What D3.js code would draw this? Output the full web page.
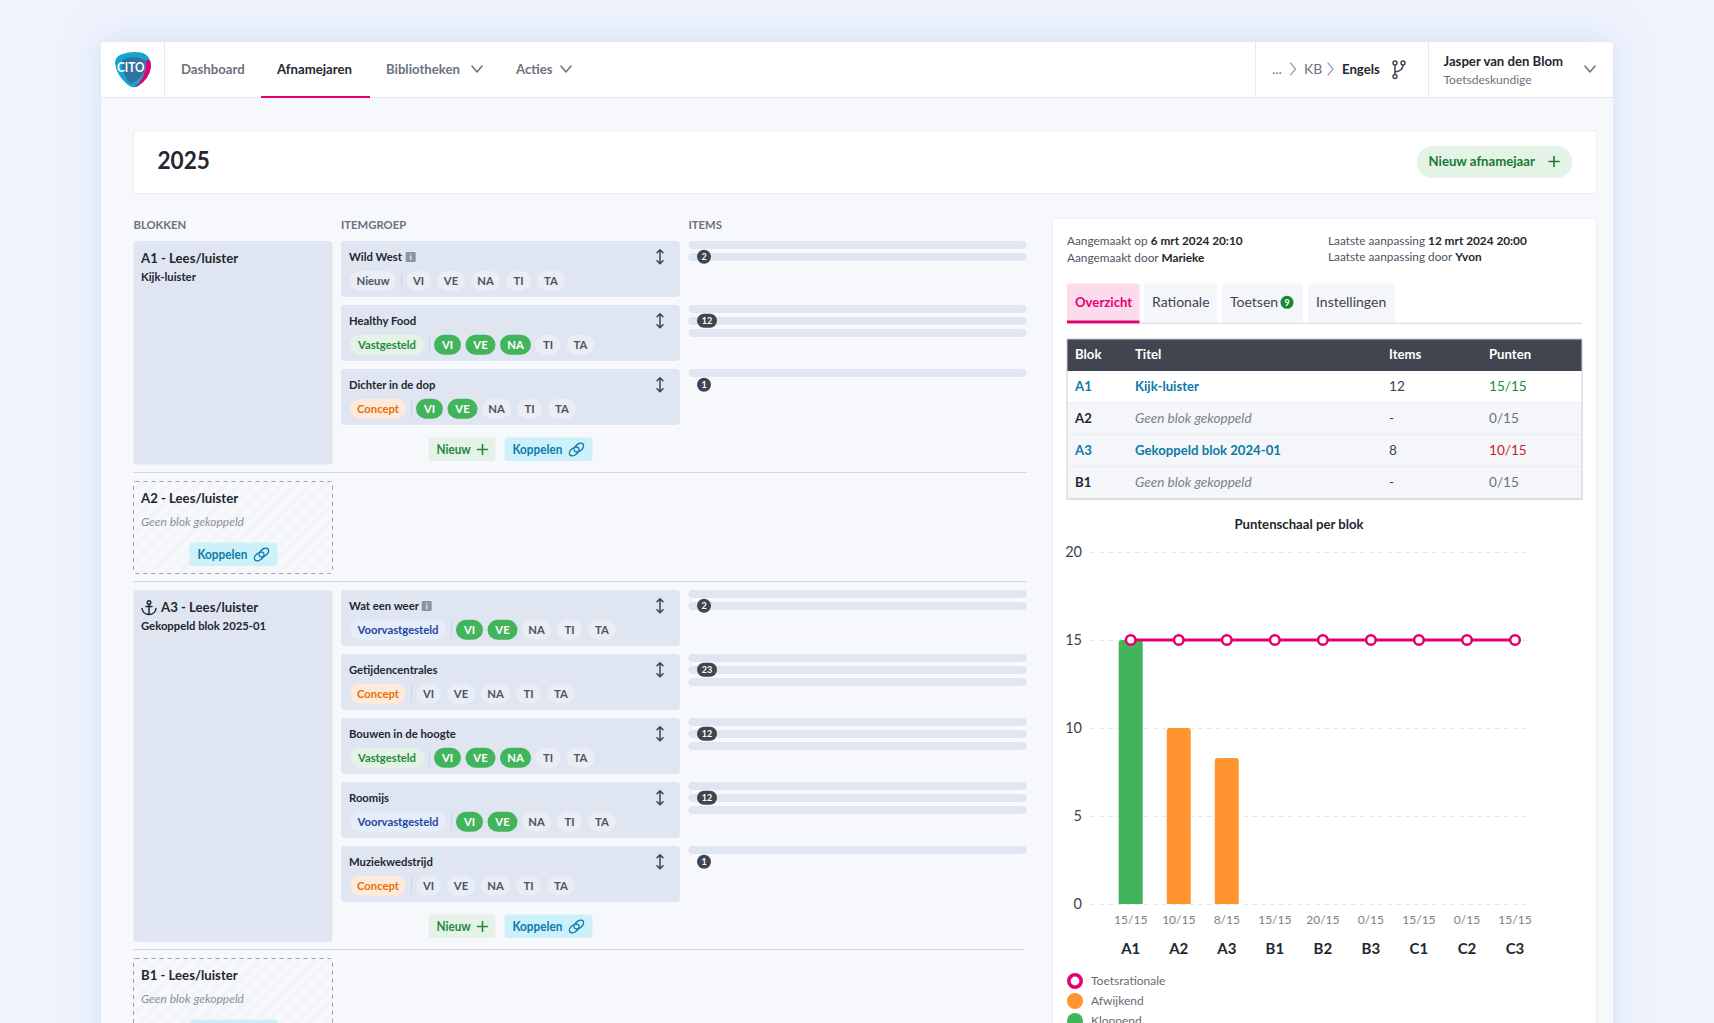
<!DOCTYPE html>
<html>
<head>
<meta charset="utf-8">
<title>Afnamejaren 2025</title>
<script src="https://cdn.jsdelivr.net/npm/d3@7"></script>
<style>
  html, body { margin: 0; padding: 0; background: #eef3fd; overflow: hidden; }
  svg { display: block; font-family: Lato, "Noto Sans", sans-serif; }
</style>
</head>
<body>
<svg id="page" width="1714" height="1023"></svg>
<script>
const colors = {
  pink: "#e5006f",
  green: "#42b55c",
  orange: "#ff9430",
  dark: "#40454f",
  text: "#23272e",
  grey: "#6b7280",
  blueLink: "#0a7ba8",
  panel: "#e0e6f1",
  line: "#cfd5e3",
};

const statusStyle = {
  Nieuw: { bg: "#eaedf4", fg: "#4b5563" },
  Vastgesteld: { bg: "#e3f3e6", fg: "#1f8a3e" },
  Concept: { bg: "#fdeadb", fg: "#e8710a" },
  Voorvastgesteld: { bg: "#e6ecf9", fg: "#2447a3" },
};

const chipWidth = { VI: 25, VE: 28, NA: 29, TI: 25, TA: 28 };
const statusWidth = { Nieuw: 46, Vastgesteld: 74, Concept: 56, Voorvastgesteld: 96 };

// y = top of the block, rows hang below it at a 64px pitch
const blocks = [
  {
    title: "A1 - Lees/luister", sub: "Kijk-luister", y: 241, bottom: 464.5, btnY: 437.5,
    rows: [
      { name: "Wild West", info: true, status: "Nieuw", on: 0, items: 2, bars: 2 },
      { name: "Healthy Food", status: "Vastgesteld", on: 3, items: 12, bars: 3 },
      { name: "Dichter in de dop", status: "Concept", on: 2, items: 1, bars: 1 },
    ],
  },
  {
    title: "A3 - Lees/luister", sub: "Gekoppeld blok 2025-01", anchor: true, y: 590, bottom: 942, btnY: 914.5,
    rows: [
      { name: "Wat een weer", info: true, status: "Voorvastgesteld", on: 2, items: 2, bars: 2 },
      { name: "Getijdencentrales", status: "Concept", on: 0, items: 23, bars: 3 },
      { name: "Bouwen in de hoogte", status: "Vastgesteld", on: 3, items: 12, bars: 3 },
      { name: "Roomijs", status: "Voorvastgesteld", on: 2, items: 12, bars: 3 },
      { name: "Muziekwedstrijd", status: "Concept", on: 0, items: 1, bars: 1 },
    ],
  },
];

const emptyBlocks = [
  { title: "A2 - Lees/luister", y: 481.5, h: 92 },
  { title: "B1 - Lees/luister", y: 958.5, h: 92 },
];

const tableRows = [
  { blok: "A1", titel: "Kijk-luister", items: "12", punten: "15/15", color: "#1d8a3c", linked: true },
  { blok: "A2", titel: "Geen blok gekoppeld", items: "-", punten: "0/15", color: colors.grey },
  { blok: "A3", titel: "Gekoppeld blok 2024-01", items: "8", punten: "10/15", color: "#c8222e", linked: true },
  { blok: "B1", titel: "Geen blok gekoppeld", items: "-", punten: "0/15", color: colors.grey },
];

const chartData = [
  { blok: "A1", score: 15, label: "15/15", rationale: 15, state: "ok" },
  { blok: "A2", score: 10, label: "10/15", rationale: 15, state: "off" },
  { blok: "A3", score: 8.3, label: "8/15", rationale: 15, state: "off" },
  { blok: "B1", score: 0, label: "15/15", rationale: 15, state: "off" },
  { blok: "B2", score: 0, label: "20/15", rationale: 15, state: "off" },
  { blok: "B3", score: 0, label: "0/15", rationale: 15, state: "off" },
  { blok: "C1", score: 0, label: "15/15", rationale: 15, state: "off" },
  { blok: "C2", score: 0, label: "0/15", rationale: 15, state: "off" },
  { blok: "C3", score: 0, label: "15/15", rationale: 15, state: "off" },
];

const svg = d3.select("#page");

function text(parent, x, y, str, opts = {}) {
  const t = parent
    .append("text")
    .attr("x", x)
    .attr("y", y)
    .attr("dy", "0.35em")
    .attr("font-size", opts.size || 14)
    .attr("font-weight", opts.weight || 400)
    .attr("font-style", opts.style || "normal")
    .attr("text-anchor", opts.anchor || "start")
    .attr("fill", opts.fill || colors.text)
    .text(str);
  // Lato bold runs wide, pull it in a bit
  if (opts.weight === 700) {
    t.attr("textLength", t.node().getComputedTextLength() * 0.94).attr("lengthAdjust", "spacingAndGlyphs");
  }
  return t;
}

function box(parent, x, y, w, h, fill, r = 4) {
  return parent.append("rect").attr("x", x).attr("y", y).attr("width", w).attr("height", h).attr("rx", r).attr("fill", fill);
}

function hline(parent, x1, x2, y, stroke = colors.line, width = 1) {
  parent.append("line").attr("x1", x1).attr("x2", x2).attr("y1", y).attr("y2", y).attr("stroke", stroke).attr("stroke-width", width);
}

function vline(parent, x, y1, y2, stroke) {
  parent.append("line").attr("x1", x).attr("x2", x).attr("y1", y1).attr("y2", y2).attr("stroke", stroke);
}

function stroked(parent, d, stroke, width = 1.5) {
  return parent.append("path").attr("d", d).attr("fill", "none").attr("stroke", stroke).attr("stroke-width", width).attr("stroke-linecap", "round").attr("stroke-linejoin", "round");
}

function chevronDown(parent, x, y, stroke = "#6b7280") {
  stroked(parent, `M${x - 5},${y - 3} L${x},${y + 3} L${x + 5},${y - 3}`, stroke);
}

function chevronRight(parent, x, y) {
  stroked(parent, `M${x - 3},${y - 6} L${x + 2},${y} L${x - 3},${y + 6}`, "#9ca3af", 1.2);
}

function plus(parent, x, y, stroke) {
  stroked(parent, `M${x - 5},${y} H${x + 5} M${x},${y - 5} V${y + 5}`, stroke, 1.6);
}

function linkIcon(parent, x, y) {
  const g = parent.append("g").attr("transform", `translate(${x},${y}) rotate(-40)`);
  [-3, 3].forEach((dx) => {
    g.append("ellipse").attr("cx", dx).attr("cy", 0).attr("rx", 5.5).attr("ry", 3.4).attr("fill", "none").attr("stroke", colors.blueLink).attr("stroke-width", 1.4);
  });
}

function sortIcon(parent, x, y) {
  stroked(parent, `M${x},${y - 6} V${y + 6} M${x - 3},${y - 4} L${x},${y - 7} L${x + 3},${y - 4} M${x - 3},${y + 4} L${x},${y + 7} L${x + 3},${y + 4}`, "#3d4550", 1.5);
}

function buttons(parent, y) {
  box(parent, 428.5, y, 67, 23.5, "#e4f2e7", 3);
  text(parent, 436.5, y + 11.7, "Nieuw", { size: 12.5, weight: 700, fill: "#1f8a3e" });
  plus(parent, 482.5, y + 12, "#1f8a3e");
  koppelen(parent, 504.5, y);
}

function koppelen(parent, x, y, label = true) {
  box(parent, x, y, 88, 23.5, "#cdf1fb", 3);
  if (!label) return;
  text(parent, x + 8, y + 11.7, "Koppelen", { size: 12.5, weight: 700, fill: colors.blueLink });
  linkIcon(parent, x + 72, y + 12);
}

function drawBackground() {
  const defs = svg.append("defs");
  const blur = defs.append("filter").attr("id", "cardShadow").attr("x", "-10%").attr("y", "-10%").attr("width", "120%").attr("height", "120%");
  blur.append("feDropShadow").attr("dx", 0).attr("dy", -3).attr("stdDeviation", 16).attr("flood-color", "#c4d1ec").attr("flood-opacity", 0.6);

  const hatch = defs.append("pattern").attr("id", "hatch").attr("width", 10).attr("height", 10).attr("patternUnits", "userSpaceOnUse").attr("patternTransform", "rotate(-45)");
  hatch.append("rect").attr("width", 10).attr("height", 10).attr("fill", "#f7f8fb");
  hatch.append("rect").attr("width", 10).attr("height", 4).attr("fill", "#f2f4f8");

  defs.append("clipPath").attr("id", "logoClip").append("path")
    .attr("d", "M121,54.5 Q133,50.5 143,53 Q151,56 151,67 Q149,79 138,86 Q133,89 128,85 Q116,75 115,63 Q115,57 121,54.5 Z");

  svg.append("rect").attr("width", 1714).attr("height", 1023).attr("fill", "#eef3fd");
  box(svg, 101, 42, 1512, 1100, "#f6f8fb", 3).attr("filter", "url(#cardShadow)");
}

function drawNav() {
  const nav = svg.append("g");
  box(nav, 101, 42, 1512, 55.5, "#fff", 3);
  hline(nav, 101, 1613, 97.5, "#e2e6ee", 1);
  vline(nav, 164.5, 42, 97, "#e6e9f0");
  vline(nav, 1255.5, 42, 97, "#e6e9f0");
  vline(nav, 1428.5, 42, 97, "#e6e9f0");

  // logo
  const logo = nav.append("g").attr("clip-path", "url(#logoClip)");
  logo.append("rect").attr("x", 112).attr("y", 48).attr("width", 42).attr("height", 44).attr("fill", "#12a6cc");
  logo.append("path").attr("d", "M128,92 Q148,80 146,60 L156,60 L156,92 Z").attr("fill", colors.pink);
  logo.append("path").attr("d", "M122,60 Q134,54 145,60 Q149,74 131,84 Q122,76 122,60 Z").attr("fill", "#35709f");
  text(nav, 117, 68, "CITO", { size: 12.5, weight: 700, fill: "#fff" });

  text(nav, 181, 69, "Dashboard", { weight: 700, fill: colors.grey });
  text(nav, 277, 69, "Afnamejaren", { weight: 700, fill: colors.text });
  box(nav, 261, 96, 109, 2, colors.pink, 0);
  text(nav, 386, 69, "Bibliotheken", { weight: 700, fill: colors.grey });
  chevronDown(nav, 477, 69);
  text(nav, 516, 69, "Acties", { weight: 700, fill: colors.grey });
  chevronDown(nav, 566, 69);

  text(nav, 1272, 69, "...", { fill: colors.grey });
  chevronRight(nav, 1293.5, 69);
  text(nav, 1304, 69, "KB", { fill: colors.grey });
  chevronRight(nav, 1331, 69);
  text(nav, 1342, 69, "Engels", { weight: 700 });
  // branch icon
  stroked(nav, "M1395,65 V75 M1403,65 Q1403,71 1395,72", "#3d4550", 1.5);
  [[1395, 63], [1395, 76.5], [1403, 63]].forEach(([cx, cy]) => {
    nav.append("circle").attr("cx", cx).attr("cy", cy).attr("r", 2).attr("fill", "#fff").attr("stroke", "#3d4550").attr("stroke-width", 1.4);
  });

  text(nav, 1443.5, 61.5, "Jasper van den Blom", { weight: 700 });
  text(nav, 1443.5, 80, "Toetsdeskundige", { size: 12, fill: colors.grey });
  chevronDown(nav, 1590, 69);
}

function drawHeader() {
  const g = svg.append("g");
  box(g, 133.5, 131, 1463.5, 62.5, "#fff", 3).attr("stroke", "#e8ebf2");
  text(g, 157.5, 161, "2025", { size: 24, weight: 700 });
  box(g, 1416.5, 146, 156, 32, "#e3f3e6", 16);
  text(g, 1428.5, 161.5, "Nieuw afnamejaar", { size: 14, weight: 700, fill: "#1a7a32" });
  plus(g, 1554, 161.5, "#1a7a32");

  text(g, 133.5, 225, "BLOKKEN", { size: 12, weight: 700, fill: colors.grey });
  text(g, 341, 225, "ITEMGROEP", { size: 12, weight: 700, fill: colors.grey });
  text(g, 688.5, 225, "ITEMS", { size: 12, weight: 700, fill: colors.grey });
}

function drawRow(g, row, y) {
  box(g, 341, y, 339, 56, colors.panel, 4);
  const title = text(g, 349, y + 15.7, row.name, { size: 12, weight: 700 });
  if (row.info) {
    const tx = 349 + title.node().getComputedTextLength() * 0.94 + 7;
    box(g, tx, y + 11, 10, 10, "#8b93a3", 1);
    text(g, tx + 5, y + 16, "i", { size: 8, weight: 700, anchor: "middle", fill: "#fff" });
  }
  sortIcon(g, 660, y + 15.7);

  // status chip, divider, then the VI VE NA TI TA chips
  const cy = y + 39.7;
  const st = statusStyle[row.status];
  const sw = statusWidth[row.status];
  box(g, 350, cy - 10, sw, 20, st.bg, 10);
  text(g, 350 + sw / 2, cy, row.status, { size: 12, weight: 700, anchor: "middle", fill: st.fg });
  vline(g, 350 + sw + 5.5, cy - 9, cy + 9, "#cfd5e3");

  let x = 350 + sw + 10;
  Object.keys(chipWidth).forEach((key, i) => {
    const on = i < row.on;
    const w = chipWidth[key] + (on ? 2 : 0);
    box(g, x, cy - 10, w, 20, on ? colors.green : "#eaedf4", 10);
    text(g, x + w / 2, cy, key, { size: 12, weight: 700, anchor: "middle", fill: on ? "#fff" : "#4b5563" });
    x += w + (on ? 4.5 : 6);
  });

  // item bars with count badge
  d3.range(row.bars).forEach((i) => {
    box(g, 688.5, y + i * 12, 338, 8, colors.panel, 4);
  });
  const label = String(row.items);
  const bw = label.length > 1 ? 20 : 14;
  box(g, 697, y + 8.7, bw, 14, colors.dark, 7);
  text(g, 697 + bw / 2, y + 15.7, label, { size: 9.5, weight: 700, anchor: "middle", fill: "#fff" });
}

function drawBlock(block) {
  const g = svg.append("g");
  box(g, 133.5, block.y, 199, block.bottom - block.y, colors.panel, 4);
  const tx = block.anchor ? 161 : 141;
  text(g, tx, block.y + 17.5, block.title, { weight: 700 });
  text(g, 141, block.y + 36, block.sub, { size: 12, weight: 700 });
  if (block.anchor) {
    const ax = 149, ay = block.y + 17.5;
    g.append("circle").attr("cx", ax).attr("cy", ay - 5).attr("r", 1.8).attr("fill", "none").attr("stroke", "#23272e").attr("stroke-width", 1.4);
    stroked(g, `M${ax},${ay - 3} V${ay + 7} M${ax - 7},${ay + 1} Q${ax - 6},${ay + 7} ${ax},${ay + 7} Q${ax + 6},${ay + 7} ${ax + 7},${ay + 1} M${ax - 3},${ay - 1} H${ax + 3}`, "#23272e", 1.5);
  }
  block.rows.forEach((row, i) => drawRow(g, row, block.y + i * 64));
  buttons(g, block.btnY);
}

function drawEmptyBlock(block) {
  const g = svg.append("g");
  box(g, 133.5, block.y, 199, block.h, "url(#hatch)", 2)
    .attr("stroke", "#9aa0ac")
    .attr("stroke-dasharray", "4 4");
  text(g, 141, block.y + 17, block.title, { weight: 700 });
  text(g, 141, block.y + 40, "Geen blok gekoppeld", { size: 12, style: "italic", fill: "#8a909c" });
  // the last button only just shows at the bottom of the window
  koppelen(g, 189.5, block.y + 61, block.y + 85 < 1023);
}

function drawSidePanel() {
  const g = svg.append("g");
  box(g, 1052, 218, 544.5, 900, "#fff", 3).attr("stroke", "#e8ebf2");

  const meta = [
    [1067, 241, "Aangemaakt op ", "6 mrt 2024 20:10"],
    [1067, 257.7, "Aangemaakt door ", "Marieke"],
    [1328, 241, "Laatste aanpassing ", "12 mrt 2024 20:00"],
    [1328, 257.3, "Laatste aanpassing door ", "Yvon"],
  ];
  meta.forEach(([x, y, a, b]) => {
    const t = text(g, x, y, a, { size: 11.8, fill: "#4b5563" });
    t.append("tspan").attr("font-weight", 700).attr("fill", colors.text).text(b);
  });

  const tabs = [
    { label: "Overzicht", x: 1067, w: 72.5, active: true },
    { label: "Rationale", x: 1144, w: 73 },
    { label: "Toetsen", x: 1222, w: 81, badge: "9" },
    { label: "Instellingen", x: 1308, w: 86.5 },
  ];
  tabs.forEach((tab) => {
    box(g, tab.x, 283.5, tab.w, 39, tab.active ? "#fcdcec" : "#f5f6f9", 2);
    text(g, tab.x + 8, 302.3, tab.label, { size: 14, weight: tab.active ? 700 : 400, fill: tab.active ? colors.pink : "#3d4550" });
    if (tab.badge) {
      g.append("circle").attr("cx", tab.x + 65).attr("cy", 302.3).attr("r", 6.5).attr("fill", "#128a30");
      text(g, tab.x + 65, 302.3, tab.badge, { size: 9.5, weight: 700, anchor: "middle", fill: "#fff" });
    }
  });
  hline(g, 1067, 1582, 323.3, "#d5d8e0", 1);
  box(g, 1067, 320.5, 72.5, 2.8, colors.pink, 0);

  // table
  const cols = { blok: 1075, titel: 1135, items: 1389, punten: 1489 };
  const top = 339, headH = 32, rowH = 32;
  box(g, 1067, top, 515, headH, colors.dark, 0);
  text(g, cols.blok, top + 15, "Blok", { weight: 700, fill: "#fff" });
  text(g, cols.titel, top + 15, "Titel", { weight: 700, fill: "#fff" });
  text(g, cols.items, top + 15, "Items", { weight: 700, fill: "#fff" });
  text(g, cols.punten, top + 15, "Punten", { weight: 700, fill: "#fff" });
  tableRows.forEach((row, i) => {
    const y = top + headH + i * rowH;
    box(g, 1067, y, 515, rowH, i === 0 ? "#fff" : "#f5f6f9", 0);
    hline(g, 1067, 1582, y + rowH, "#dfe3ea", 1);
    const cy = y + rowH / 2 - 1;
    text(g, cols.blok, cy, row.blok, { weight: 700, fill: row.linked ? colors.blueLink : colors.text });
    if (row.linked) text(g, cols.titel, cy, row.titel, { weight: 700, fill: colors.blueLink });
    else text(g, cols.titel, cy, row.titel, { size: 13.6, style: "italic", fill: "#7c828d" });
    text(g, cols.items, cy, row.items, { size: 13.6, fill: "#3d4550" });
    text(g, cols.punten, cy, row.punten, { size: 13.6, fill: row.color });
  });
  g.append("rect").attr("x", 1067).attr("y", top).attr("width", 515).attr("height", headH + rowH * 4).attr("fill", "none").attr("stroke", "#c9ced9");
}

function drawChart() {
  const g = svg.append("g");
  text(g, 1299, 524.3, "Puntenschaal per blok", { size: 14, weight: 700, anchor: "middle" });

  const x = d3.scaleBand().domain(chartData.map((d) => d.blok)).range([1106.7, 1539]).paddingInner(0.5).paddingOuter(0.25);
  const y = d3.scaleLinear().domain([0, 20]).range([904, 552]);
  const center = (d) => x(d.blok) + x.bandwidth() / 2;

  const yAxis = g.append("g")
    .attr("transform", "translate(1090,0)")
    .call(d3.axisLeft(y).tickValues([0, 5, 10, 15, 20]).tickSize(-437.5).tickPadding(8));
  yAxis.select(".domain").remove();
  yAxis.selectAll(".tick line").attr("stroke", "#e6e8ec").attr("stroke-dasharray", "5 4");
  yAxis.selectAll(".tick text").attr("font-family", "Lato").attr("font-size", 14.5).attr("fill", "#3d4550");

  const scoreAxis = g.append("g")
    .attr("transform", "translate(0,904)")
    .call(d3.axisBottom(x).tickSize(0).tickPadding(11).tickFormat((b) => chartData.find((d) => d.blok === b).label));
  scoreAxis.select(".domain").remove();
  scoreAxis.selectAll("text").attr("font-family", "Lato").attr("font-size", 12).attr("fill", "#7a7f88");

  const blokAxis = g.append("g")
    .attr("transform", "translate(0,904)")
    .call(d3.axisBottom(x).tickSize(0).tickPadding(39));
  blokAxis.select(".domain").remove();
  blokAxis.selectAll("text").attr("font-family", "Lato").attr("font-size", 15).attr("font-weight", 700).attr("fill", colors.text);

  g.selectAll(".bar")
    .data(chartData.filter((d) => d.score > 0))
    .join("path")
    .attr("class", "bar")
    .attr("fill", (d) => (d.state === "ok" ? colors.green : colors.orange))
    .attr("d", (d) => {
      const x0 = x(d.blok), w = x.bandwidth(), top = y(d.score), r = 3;
      return `M${x0},${y(0)} V${top + r} Q${x0},${top} ${x0 + r},${top} H${x0 + w - r} Q${x0 + w},${top} ${x0 + w},${top + r} V${y(0)} Z`;
    });

  const line = d3.line().x(center).y((d) => y(d.rationale));
  g.append("path").datum(chartData).attr("d", line).attr("fill", "none").attr("stroke", colors.pink).attr("stroke-width", 3);
  g.selectAll(".point")
    .data(chartData)
    .join("circle")
    .attr("class", "point")
    .attr("cx", center)
    .attr("cy", (d) => y(d.rationale))
    .attr("r", 4.8)
    .attr("fill", "#fff")
    .attr("stroke", colors.pink)
    .attr("stroke-width", 2.6);

  const legend = [
    { label: "Toetsrationale", ring: true, color: colors.pink },
    { label: "Afwijkend", color: colors.orange },
    { label: "Kloppend", color: colors.green },
  ];
  legend.forEach((item, i) => {
    const ly = 981 + i * 20;
    g.append("circle")
      .attr("cx", 1075)
      .attr("cy", ly)
      .attr("r", item.ring ? 6.2 : 8)
      .attr("fill", item.ring ? "#fff" : item.color)
      .attr("stroke", item.ring ? item.color : "none")
      .attr("stroke-width", 3.6);
    text(g, 1091, ly, item.label, { size: 12, fill: "#666b75" });
  });
}

drawBackground();
drawNav();
drawHeader();
blocks.forEach(drawBlock);
emptyBlocks.forEach(drawEmptyBlock);
hline(svg, 133.5, 1026.5, 472.5, colors.line, 1.2);
hline(svg, 133.5, 1026.5, 581.5, colors.line, 1.2);
hline(svg, 133.5, 1024, 949.5, colors.line, 1.2);
drawSidePanel();
drawChart();
</script>
</body>
</html>
